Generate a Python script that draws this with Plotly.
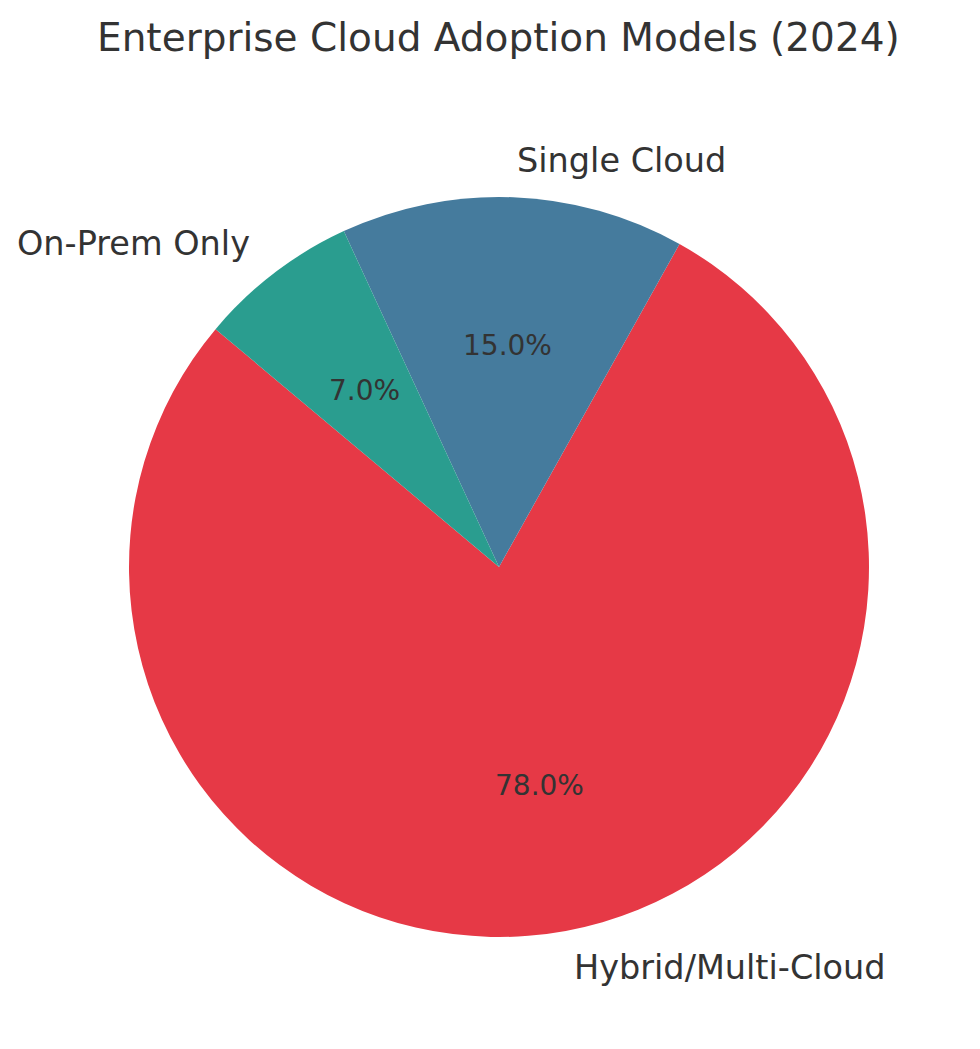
import math
import plotly.graph_objects as go

labels = ["Hybrid/Multi-Cloud", "Single Cloud", "On-Prem Only"]
values = [78, 15, 7]
colors = ["#E63946", "#457B9D", "#2A9D8F"]
title_text = "Enterprise Cloud Adoption Models (2024)"

W, H = 980, 1049
OFF = 8  # page body margin offset in the screenshot
CX, CY, R = 499 - OFF, 567 - OFF, 370  # pie centre / radius in pixels
START = 140  # degrees, counterclockwise from 3 o'clock

dom_x = [(CX - R) / W, (CX + R) / W]
dom_y = [1 - (CY + R) / H, 1 - (CY - R) / H]

total = sum(values)
# plotly (counterclockwise): first slice spans clockwise [rot, rot + v1] from 12 o'clock
rot = (90 - START - 360 * values[0] / total) % 360

fig = go.Figure()
fig.add_trace(go.Pie(
    labels=labels, values=values, sort=False,
    direction="counterclockwise", rotation=rot,
    marker=dict(colors=colors, line=dict(width=0)),
    textinfo="none", hoverinfo="label+percent",
    domain=dict(x=dom_x, y=dom_y), showlegend=False,
))

ang = START
annotations = []
for lab, v in zip(labels, values):
    span = 360 * v / total
    mid = math.radians(ang + span / 2)
    ang += span
    c, s = math.cos(mid), math.sin(mid)
    annotations.append(dict(
        x=(CX + 0.6 * R * c) / W, y=1 - (CY - 0.6 * R * s) / H,
        xref="paper", yref="paper", text=f"{100 * v / total:.1f}%",
        showarrow=False, xanchor="center", yanchor="middle",
        font=dict(size=28, color="#333333", family="DejaVu Sans"),
    ))
    annotations.append(dict(
        x=(CX + 1.1 * R * c) / W, y=1 - (CY - 1.1 * R * s) / H,
        xref="paper", yref="paper", text=lab,
        showarrow=False, xanchor="left" if c > 0 else "right", yanchor="middle",
        font=dict(size=33.5, color="#333333", family="DejaVu Sans"),
    ))

annotations.append(dict(
    x=(498 - OFF) / W, y=1 - (38 - OFF) / H, xref="paper", yref="paper", text=title_text,
    showarrow=False, xanchor="center", yanchor="middle",
    font=dict(size=39, color="#333333", family="DejaVu Sans"),
))

fig.update_layout(
    width=W, height=H, margin=dict(l=0, r=0, t=0, b=0),
    paper_bgcolor="white", plot_bgcolor="white",
    annotations=annotations,
    font=dict(family="DejaVu Sans", color="#333333"),
)

fig.write_html("out.html")
